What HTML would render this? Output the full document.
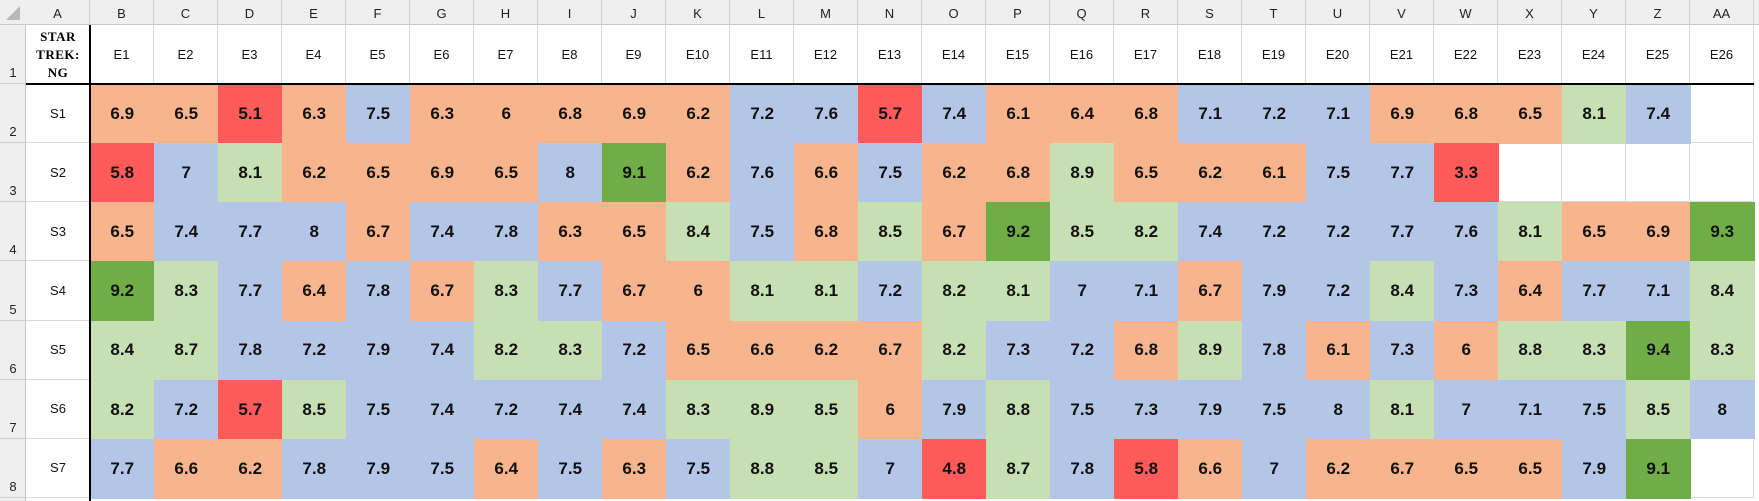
<!DOCTYPE html>
<html><head><meta charset="utf-8">
<style>
body{margin:0;width:1759px;height:501px;overflow:hidden;background:#fff;font-family:"Liberation Sans",sans-serif;position:relative}
.c{position:absolute;box-sizing:border-box;display:flex;align-items:center;justify-content:center}
</style></head><body>
<div id="sheet"></div>
<script>
const episodes=["E1","E2","E3","E4","E5","E6","E7","E8","E9","E10","E11","E12","E13","E14","E15","E16","E17","E18","E19","E20","E21","E22","E23","E24","E25","E26"];
const seasons=["S1","S2","S3","S4","S5","S6","S7"];
const colLetters=["A","B","C","D","E","F","G","H","I","J","K","L","M","N","O","P","Q","R","S","T","U","V","W","X","Y","Z","AA"];
const s1=[6.9,6.5,5.1,6.3,7.5,6.3,6,6.8,6.9,6.2,7.2,7.6,5.7,7.4,6.1,6.4,6.8,7.1,7.2,7.1,6.9,6.8,6.5,8.1,7.4];
const s2=[5.8,7,8.1,6.2,6.5,6.9,6.5,8,9.1,6.2,7.6,6.6,7.5,6.2,6.8,8.9,6.5,6.2,6.1,7.5,7.7,3.3];
const s3=[6.5,7.4,7.7,8,6.7,7.4,7.8,6.3,6.5,8.4,7.5,6.8,8.5,6.7,9.2,8.5,8.2,7.4,7.2,7.2,7.7,7.6,8.1,6.5,6.9,9.3];
const s4=[9.2,8.3,7.7,6.4,7.8,6.7,8.3,7.7,6.7,6,8.1,8.1,7.2,8.2,8.1,7,7.1,6.7,7.9,7.2,8.4,7.3,6.4,7.7,7.1,8.4];
const s5=[8.4,8.7,7.8,7.2,7.9,7.4,8.2,8.3,7.2,6.5,6.6,6.2,6.7,8.2,7.3,7.2,6.8,8.9,7.8,6.1,7.3,6,8.8,8.3,9.4,8.3];
const s6=[8.2,7.2,5.7,8.5,7.5,7.4,7.2,7.4,7.4,8.3,8.9,8.5,6,7.9,8.8,7.5,7.3,7.9,7.5,8,8.1,7,7.1,7.5,8.5,8];
const s7=[7.7,6.6,6.2,7.8,7.9,7.5,6.4,7.5,6.3,7.5,8.8,8.5,7,4.8,8.7,7.8,5.8,6.6,7,6.2,6.7,6.5,6.5,7.9,9.1];
const ratings=[s1,s2,s3,s4,s5,s6,s7];

const S=document.getElementById('sheet');
const X0=26,CW=64,RH=25,H1=59,Y2=84,DH=59.15;
function colX(i){return X0+CW*i;}       // i=0 -> column A
function rowY(r){return Y2+DH*r;}
function color(v){if(v<6)return'#ff5b5b';if(v<7)return'#f8b48c';if(v<=8)return'#b4c6e7';if(v<9)return'#c6e0b4';return'#70ad47';}
function box(x,y,w,h,css,txt){const d=document.createElement('div');d.className='c';d.style.cssText=`left:${x}px;top:${y}px;width:${w}px;height:${h}px;`+css;if(txt!==undefined)d.textContent=txt;S.appendChild(d);return d;}

// header bar
let hb=box(0,0,1759,RH,'background:#efefef;border-bottom:1px solid #c8c8c8');


let cn=box(0,0,X0,RH,'');


cn.innerHTML='<svg width="26" height="25"><polygon points="20,6 20,20 6,20" fill="#b8b8b8"/></svg>';
let rb=box(0,RH,X0,476,'background:#efefef;border-right:1px solid #c8c8c8');


colLetters.forEach((l,i)=>{
  const d=box(colX(i),0,CW,RH,'border-right:1px solid #d0d0d0;font-size:13px;color:#222;padding-top:2px',l);
  
  
});
// row numbers
const rowTops=[RH].concat(seasons.map((_,r)=>rowY(r)));
const rowHs=[Y2-RH].concat(seasons.map(()=>DH));
rowTops.forEach((y,i)=>{
  const d=box(0,y,X0,rowHs[i],'border-bottom:1px solid #d0d0d0;align-items:flex-end;padding-bottom:3px;font-size:13px;color:#222',String(i+1));
  
  
});
// grid cells (white background + gridlines)
for(let r=0;r<=7;r++){for(let c=0;c<27;c++){
  const d=box(colX(c),rowTops[r],CW,rowHs[r],'border-right:1px solid #d9d9d9;border-bottom:1px solid #d9d9d9;background:#fff');
  
  
}}
// title
let t=box(X0,RH,CW,Y2-RH,'flex-direction:column;font-family:"Liberation Serif",serif;font-weight:bold;font-size:13px;line-height:18px;letter-spacing:0.5px;background:#fff');
t.innerHTML='<span>STAR</span><span>TREK:</span><span>NG</span>';


episodes.forEach((e,i)=>{
  const d=box(colX(i+1),RH,CW,Y2-RH,'font-size:13px;color:#111;border-right:1px solid #d9d9d9',e);
  
  
});
seasons.forEach((s,r)=>{
  const d=box(X0,rowY(r),CW,DH,'font-size:13px;color:#111;border-bottom:1px solid #d9d9d9',s);
  
  
  ratings[r].forEach((v,c)=>{
    const k=box(colX(c+1),rowY(r),CW+0.5,DH+0.5,'background:'+color(v)+';font-weight:bold;font-size:17px;color:#111',String(v));
    
    
  });
});
// thick borders
let b1=box(X0,Y2-1,1754-X0,2,'background:#000');


let b2=box(X0+CW-1,RH,2,476,'background:#000');


</script>
</body></html>
